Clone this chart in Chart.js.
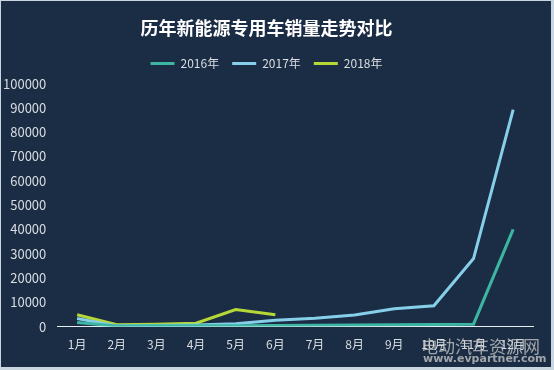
<!DOCTYPE html>
<html>
<head>
<meta charset="utf-8">
<script src="https://cdn.jsdelivr.net/npm/chart.js@4.4.1/dist/chart.umd.min.js"></script>
<style>
  html, body { margin: 0; padding: 0; background: #c9d6df; }
  #wrap { width: 554px; height: 370px; }
</style>
</head>
<body>
<div id="wrap"><canvas id="myChart"></canvas></div>
<script>
// 月份
const meses = ['1月', '2月', '3月', '4月', '5月', '6月', '7月', '8月', '9月', '10月', '11月', '12月'];
// 销量数据
const vendas2016 = [1700, 200, 300, 300, 400, 500, 600, 700, 800, 900, 1000, 40000];
const vendas2017 = [3300, 300, 500, 700, 1200, 2600, 3400, 4800, 7300, 8600, 28000, 89300];
const vendas2018 = [4900, 800, 1000, 1400, 7000, 4900];
const nomesSeries = ['2016年', '2017年', '2018年'];
const coresSeries = ['#3db5a3', '#86cfe9', '#b6d836'];

// fundo escuro + marca d'água
const fundoPlugin = {
  id: 'fundo',
  beforeInit(chart) {
    // um pouco mais de espaço abaixo da legenda
    const fitOriginal = chart.legend.fit;
    chart.legend.fit = function() {
      fitOriginal.call(this);
      this.height += 4;
    };
  },
  beforeDraw(chart) {
    const c = chart.ctx;
    c.save();
    c.fillStyle = '#c9d6df';
    c.fillRect(0, 0, chart.width, chart.height);
    c.fillStyle = '#1b2d44';
    c.fillRect(1, 1, chart.width - 4, chart.height - 4);
    c.restore();
  },
  afterDraw(chart) {
    const c = chart.ctx;
    c.save();
    c.fillStyle = 'rgba(205, 205, 205, 0.75)';
    c.textAlign = 'left';
    c.font = '17px "Noto Sans CJK SC"';
    c.fillText('电动汽车资源网', 421, 347);
    c.font = 'bold 11px "DejaVu Sans"';
    c.fillText('www.evpartner.com', 423, 359);
    c.restore();
  }
};

const ctx = document.getElementById('myChart').getContext('2d');

const dados = {
  labels: meses,
  datasets: [vendas2016, vendas2017, vendas2018].map((v, i) => ({
    label: nomesSeries[i],
    data: v,
    borderColor: coresSeries[i],
    backgroundColor: coresSeries[i],
    borderWidth: 3,
    pointRadius: 0,
    tension: 0,
    fill: false
  }))
};

const opcoes = {
  responsive: true,
  maintainAspectRatio: false,
  animation: false,
  layout: { padding: { left: 0, right: 21, bottom: 15 } },
  plugins: {
    title: {
      display: true,
      text: '历年新能源专用车销量走势对比',
      color: '#ffffff',
      font: { size: 18, weight: 'bold', family: '"Noto Sans CJK SC"' },
      padding: { top: 17, bottom: 6 }
    },
    legend: {
      display: true,
      position: 'top',
      labels: {
        color: '#d8dde2',
        font: { size: 12, family: '"Noto Sans CJK SC"' },
        boxWidth: 24,
        boxHeight: 3,
        padding: 13,
        generateLabels(chart) {
          const itens = Chart.defaults.plugins.legend.labels.generateLabels(chart);
          itens.forEach(it => { it.lineWidth = 0; it.fillStyle = it.strokeStyle; });
          return itens;
        }
      }
    },
    tooltip: { enabled: false }
  },
  scales: {
    x: {
      offset: true,
      grid: { display: false },
      border: { display: true, color: '#e6ecf0', width: 1 },
      ticks: {
        color: '#d8dde2',
        font: { size: 12, family: '"Noto Sans CJK SC"' },
        padding: 3
      }
    },
    y: {
      min: 0,
      max: 100000,
      grid: { display: false },
      border: { display: false },
      ticks: {
        stepSize: 10000,
        color: '#d8dde2',
        font: { size: 13, family: '"Noto Sans CJK SC"' },
        padding: 3,
        callback: v => String(v)
      }
    }
  }
};

chart1 = new Chart(ctx, {
  type: 'line',
  data: dados,
  options: opcoes,
  plugins: [fundoPlugin]
});
</script>
</body>
</html>
